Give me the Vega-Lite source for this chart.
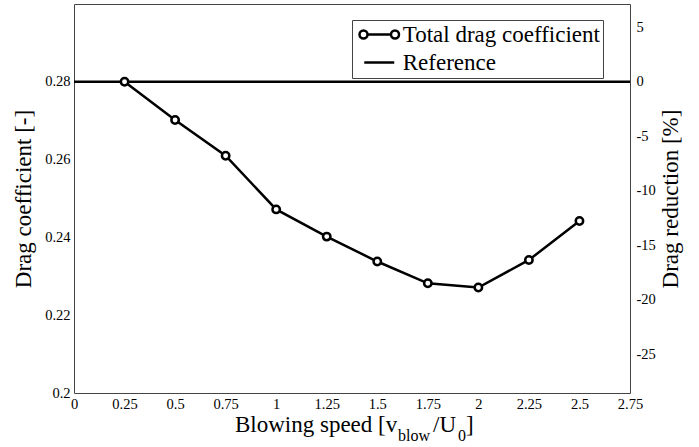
{
  "$schema": "https://vega.github.io/schema/vega-lite/v6.json",
  "width": 556,
  "height": 389,
  "autosize": {"type": "none"},
  "padding": {"left": 74, "top": 4, "right": 69, "bottom": 54},
  "background": "white",
  "config": {
    "view": {"stroke": "#444", "strokeWidth": 1},
    "font": "Liberation Serif",
    "text": {"font": "Liberation Serif"},
    "axis": {
      "labelFont": "Liberation Serif",
      "titleFont": "Liberation Serif",
      "labelFontSize": 14.5,
      "titleFontSize": 23,
      "titleFontWeight": "normal",
      "labelColor": "black",
      "titleColor": "black",
      "tickColor": "#555",
      "tickWidth": 1,
      "tickSize": 0,
      "domain": false,
      "grid": false,
      "labelFlush": false,
      "labelOverlap": false,
      "labelBound": false
    }
  },
  "data": {
    "values": [
      {"x": 0.25, "cd": 0.28, "series": "Total drag coefficient"},
      {"x": 0.5, "cd": 0.2702, "series": "Total drag coefficient"},
      {"x": 0.75, "cd": 0.261, "series": "Total drag coefficient"},
      {"x": 1.0, "cd": 0.2472, "series": "Total drag coefficient"},
      {"x": 1.25, "cd": 0.2402, "series": "Total drag coefficient"},
      {"x": 1.5, "cd": 0.2338, "series": "Total drag coefficient"},
      {"x": 1.75, "cd": 0.2282, "series": "Total drag coefficient"},
      {"x": 2.0, "cd": 0.2271, "series": "Total drag coefficient"},
      {"x": 2.25, "cd": 0.2342, "series": "Total drag coefficient"},
      {"x": 2.5, "cd": 0.2442, "series": "Total drag coefficient"},
      {"x": 0, "cd": 0.28, "series": "Reference"},
      {"x": 2.75, "cd": 0.28, "series": "Reference"}
    ]
  },
  "layer": [
    {
      "layer": [
        {
          "mark": {"type": "line", "strokeWidth": 2.5},
          "encoding": {
            "x": {
              "field": "x", "type": "quantitative",
              "scale": {"domain": [0, 2.75], "nice": false, "zero": false},
              "axis": {
                "orient": "bottom",
                "title": null,
                "values": [0, 0.125, 0.25, 0.375, 0.5, 0.625, 0.75, 0.875, 1, 1.125, 1.25, 1.375, 1.5, 1.625, 1.75, 1.875, 2, 2.125, 2.25, 2.375, 2.5, 2.625, 2.75],
                "labelExpr": "(datum.value*4)%1==0 ? toString(datum.value) : ''",
                "labelPadding": 4,
                "encode": {"ticks": {"update": {"y2": {"signal": "(datum.value*4)%1==0 ? -11 : -6"}}}}
              }
            },
            "y": {
              "field": "cd", "type": "quantitative",
              "scale": {"domain": [0.2, 0.3], "nice": false, "zero": false},
              "axis": {
                "orient": "left",
                "title": "Drag coefficient [-]",
                "titlePadding": 9,
                "values": [0.2, 0.21, 0.22, 0.23, 0.24, 0.25, 0.26, 0.27, 0.28, 0.29],
                "labelExpr": "round(datum.value*100)%2==0 ? toString(datum.value) : ''",
                "labelPadding": 4,
                "encode": {"ticks": {"update": {"x2": {"signal": "round(datum.value*100)%2==0 ? 11 : 6"}}}}
              }
            },
            "color": {
              "field": "series", "type": "nominal",
              "scale": {"domain": ["Total drag coefficient", "Reference"], "range": ["black", "black"]},
              "legend": {
                "orient": "none",
                "legendX": 278,
                "legendY": 16,
                "title": null,
                "strokeColor": "#444",
                "fillColor": "white",
                "padding": 3,
                "labelFont": "Liberation Serif",
                "labelFontSize": 23,
                "labelColor": "black",
                "labelLimit": 0,
                "symbolSize": 400,
                "symbolStrokeWidth": 2.5,
                "symbolOffset": 12.75,
                "labelOffset": 12,
                "rowPadding": 4,
                "encode": {
                  "symbols": {
                    "update": {
                      "shape": {"signal": "datum.value=='Reference' ? 'M-1.5,0L1.5,0' : 'M-1.175,0C-1.175,0.221 -1.354,0.4 -1.575,0.4C-1.796,0.4 -1.975,0.221 -1.975,0C-1.975,-0.221 -1.796,-0.4 -1.575,-0.4C-1.354,-0.4 -1.175,-0.221 -1.175,0ZM1.975,0C1.975,0.221 1.796,0.4 1.575,0.4C1.354,0.4 1.175,0.221 1.175,0C1.175,-0.221 1.354,-0.4 1.575,-0.4C1.796,-0.4 1.975,-0.221 1.975,0ZM-1.175,0L1.175,0'"},
                      "stroke": {"value": "black"},
                      "fill": {"value": "white"},
                      "strokeWidth": {"value": 2.5},
                      "opacity": {"value": 1}
                    }
                  }
                }
              }
            }
          }
        },
        {
          "transform": [{"filter": "datum.series == 'Total drag coefficient'"}],
          "mark": {"type": "point", "shape": "circle", "filled": true, "fill": "white", "stroke": "black", "strokeWidth": 2.5, "size": 55, "opacity": 1},
          "encoding": {
            "x": {"field": "x", "type": "quantitative"},
            "y": {"field": "cd", "type": "quantitative"}
          }
        },
        {
          "data": {"values": [{}]},
          "mark": {"type": "text", "align": "left", "baseline": "alphabetic", "fontSize": 23, "font": "Liberation Serif", "text": "Blowing speed [v", "color": "black"},
          "encoding": {"x": {"datum": 0.7962, "type": "quantitative"}, "y": {"datum": 0.18997, "type": "quantitative"}}
        },
        {
          "data": {"values": [{}]},
          "mark": {"type": "text", "align": "left", "baseline": "alphabetic", "fontSize": 16, "font": "Liberation Serif", "text": "blow", "color": "black"},
          "encoding": {"x": {"datum": 1.6024, "type": "quantitative"}, "y": {"datum": 0.18766, "type": "quantitative"}}
        },
        {
          "data": {"values": [{}]},
          "mark": {"type": "text", "align": "left", "baseline": "alphabetic", "fontSize": 23, "font": "Liberation Serif", "text": "/U", "color": "black"},
          "encoding": {"x": {"datum": 1.7756, "type": "quantitative"}, "y": {"datum": 0.18997, "type": "quantitative"}}
        },
        {
          "data": {"values": [{}]},
          "mark": {"type": "text", "align": "left", "baseline": "alphabetic", "fontSize": 16, "font": "Liberation Serif", "text": "0", "color": "black"},
          "encoding": {"x": {"datum": 1.8993, "type": "quantitative"}, "y": {"datum": 0.18766, "type": "quantitative"}}
        },
        {
          "data": {"values": [{}]},
          "mark": {"type": "text", "align": "left", "baseline": "alphabetic", "fontSize": 23, "font": "Liberation Serif", "text": "]", "color": "black"},
          "encoding": {"x": {"datum": 1.9388, "type": "quantitative"}, "y": {"datum": 0.18997, "type": "quantitative"}}
        }
      ]
    },
    {
      "transform": [{"filter": "datum.series == 'Total drag coefficient'"}],
      "mark": {"type": "point", "opacity": 0},
      "encoding": {
        "x": {
          "field": "x", "type": "quantitative",
          "axis": {
            "orient": "top",
            "title": null,
            "labels": false,
            "values": [0, 0.125, 0.25, 0.375, 0.5, 0.625, 0.75, 0.875, 1, 1.125, 1.25, 1.375, 1.5, 1.625, 1.75, 1.875, 2, 2.125, 2.25, 2.375, 2.5, 2.625, 2.75],
            "encode": {"ticks": {"update": {"y2": {"signal": "(datum.value*4)%1==0 ? 11 : 6"}}}}
          }
        },
        "y": {
          "datum": 0, "type": "quantitative",
          "scale": {"domain": [-28.5714, 7.1429], "nice": false, "zero": false},
          "axis": {
            "orient": "right",
            "title": "Drag reduction [%]",
            "titleAngle": 270,
            "titleBaseline": "top",
            "titlePadding": 4,
            "values": [-27.5, -25, -22.5, -20, -17.5, -15, -12.5, -10, -7.5, -5, -2.5, 0, 2.5, 5],
            "labelExpr": "datum.value%5==0 ? toString(datum.value) : ''",
            "labelPadding": 6,
            "encode": {"ticks": {"update": {"x2": {"signal": "datum.value%5==0 ? -11 : -6"}}}}
          }
        }
      }
    }
  ],
  "resolve": {"scale": {"y": "independent"}, "axis": {"x": "independent"}}
}
